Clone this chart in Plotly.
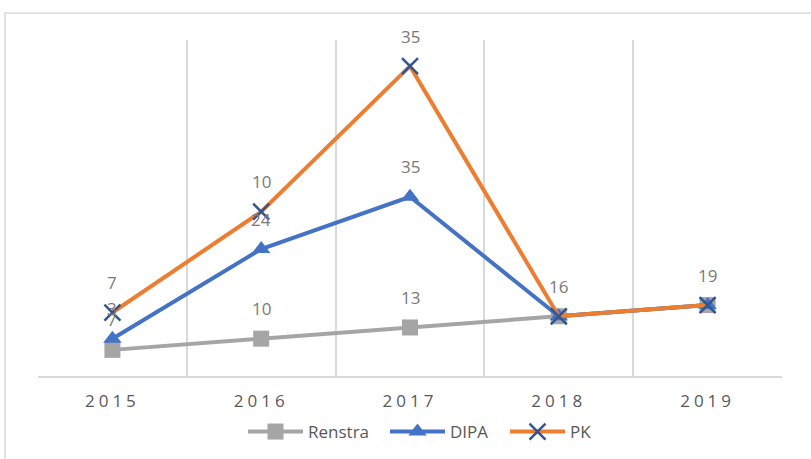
import numpy as np
import plotly.graph_objects as go

years = ["2015", "2016", "2017", "2018", "2019"]
renstra = [7, 10, 13, 16, 19]
dipa = [3, 24, 35, 0, 0]
pk = [7, 10, 35, 0, 0]

series_names = ["Renstra", "DIPA", "PK"]
series_values = [renstra, dipa, pk]
line_colors = ["#A5A5A5", "#4472C4", "#ED7D31"]

W, H = 811, 459
L, R, T, B = 38, 29, 40, 83
PW, PH = W - L - R, H - T - B

fig = go.Figure()
marker_styles = [
    dict(symbol="square", size=16, color="#A5A5A5"),
    dict(symbol="triangle-up", size=16, color="#4472C4"),
    dict(symbol="x-thin", size=16, color="#2F5597", line=dict(width=2.5, color="#2F5597")),
]
legend_ids = ["legend", "legend2", "legend3"]
for name, vals, col, mk, lg in zip(series_names, series_values, line_colors, marker_styles, legend_ids):
    fig.add_trace(go.Scatter(
        x=years, y=vals, name=name, mode="lines+markers",
        stackgroup="one", fill="none",
        line=dict(color=col, width=4),
        marker=mk, legend=lg,
    ))

# data labels at stacked positions
cum = np.cumsum(np.array(series_values), axis=0)
for i, vals in enumerate(series_values):
    for j, v in enumerate(vals):
        if v == 0:
            continue
        fig.add_annotation(
            xref="x", yref="y",
            x=j, y=float(cum[i][j]), text=str(v), showarrow=False,
            yshift=30, font=dict(size=17, color="#7A7A7A"),
        )

# outer chart border
fig.add_shape(
    type="rect", xref="paper", yref="paper", layer="below",
    x0=(5 - L) / PW, x1=(815 - L) / PW,
    y0=-(470 - (H - B)) / PH, y1=1 + (T - 13) / PH,
    line=dict(color="#D9D9D9", width=1.5), fillcolor="rgba(0,0,0,0)",
)

def leg(px):
    return dict(
        orientation="h", xref="container", yref="container",
        x=px / W, xanchor="left", y=(H - 432) / H, yanchor="middle",
        font=dict(size=17, color="#595959"), itemwidth=55,
        bgcolor="rgba(0,0,0,0)",
    )

fig.update_layout(
    width=W, height=H,
    margin=dict(l=L, r=R, t=T, b=B, autoexpand=False),
    paper_bgcolor="white", plot_bgcolor="white",
    font=dict(family="Open Sans", color="#595959"),
    showlegend=True,
    legend=leg(243), legend2=leg(385), legend3=leg(505),
    xaxis=dict(
        type="category", range=[-0.5, 4.5], tickson="boundaries",
        showgrid=True, gridcolor="#D9D9D9", gridwidth=1.5,
        showline=True, linecolor="#D9D9D9", linewidth=1.5,
        ticks="", tickfont=dict(size=17, color="#595959"),
        ticklabelstandoff=9, zeroline=False,
    ),
    yaxis=dict(
        range=[0, 90], showticklabels=False, showgrid=False, zeroline=False,
        showline=False, ticks="",
    ),
)

post = """
document.body.style.margin='0';
document.body.style.padding='0';
var gd = document.getElementById('{plot_id}');
function sp(){ gd.querySelectorAll('.xtick text').forEach(function(t){ t.style.letterSpacing='4px'; }); }
sp(); gd.on('plotly_afterplot', sp);
"""
fig.write_html("out.html", post_script=post, config={"displayModeBar": False})
